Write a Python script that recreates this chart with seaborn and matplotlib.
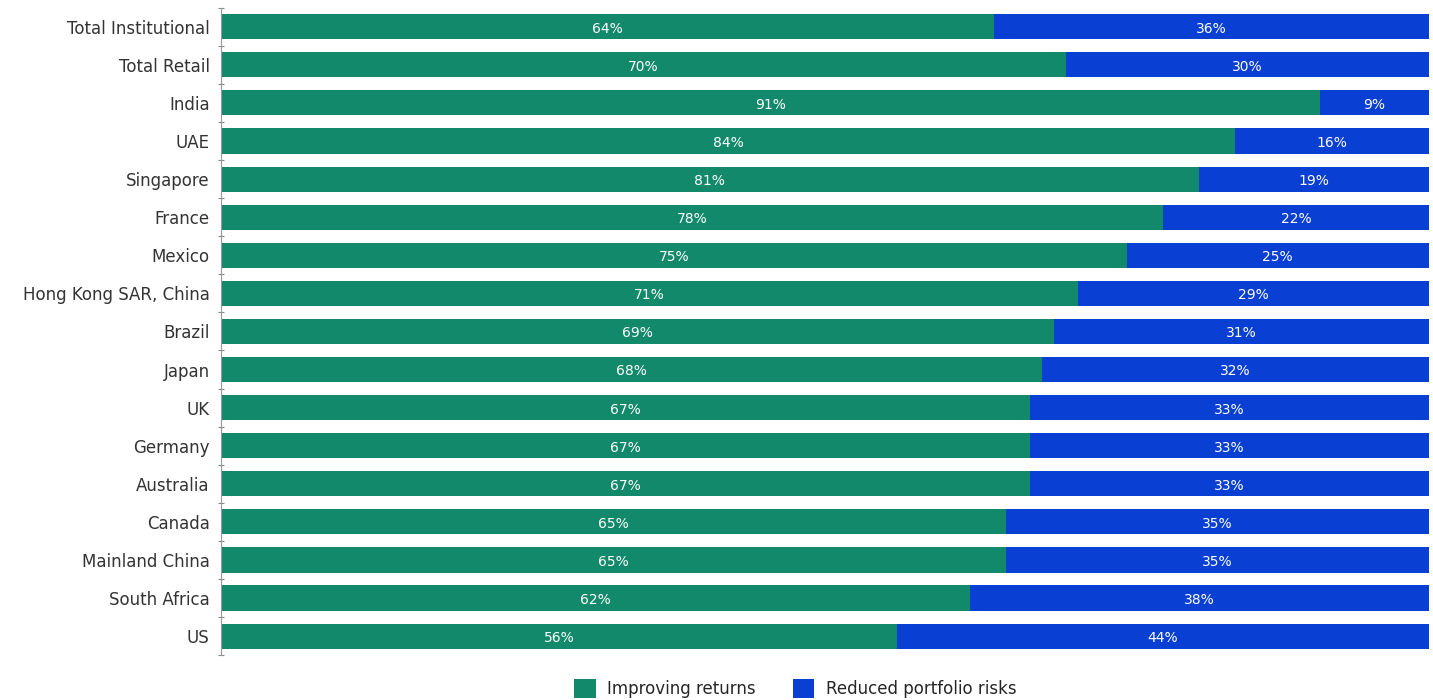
import seaborn as sns
import pandas as pd
import matplotlib.pyplot as plt

# Data
markets = [
  "Total Institutional", "Total Retail", "India", "UAE", "Singapore", "France",
  "Mexico", "Hong Kong SAR, China", "Brazil", "Japan", "UK", "Germany",
  "Australia", "Canada", "Mainland China", "South Africa", "US",
]
improving_returns = [64, 70, 91, 84, 81, 78, 75, 71, 69, 68, 67, 67, 67, 65, 65, 62, 56]
reduced_risks = [36, 30, 9, 16, 19, 22, 25, 29, 31, 32, 33, 33, 33, 35, 35, 38, 44]

green = "#11896a"
blue = "#0a3fd4"

df = pd.DataFrame({
  "market": markets,
  "improving": improving_returns,
  "reduced": reduced_risks,
})
df["total"] = df["improving"] + df["reduced"]

sns.set_style("white")
plt.rcParams["font.family"] = ["DejaVu Sans"]

fig = plt.figure(figsize=(14.33, 7.0), dpi=100)
ax = fig.add_axes([0.154, 0.064, 0.843, 0.925])

sns.barplot(data=df, y="market", x="total", color=blue, orient="h",
            width=0.66, saturation=1, linewidth=0, ax=ax, label="Reduced portfolio risks")
sns.barplot(data=df, y="market", x="improving", color=green, orient="h",
            width=0.66, saturation=1, linewidth=0, ax=ax, label="Improving returns")

for i, row in df.iterrows():
  ax.text(row["improving"] / 2, i + 0.05, f"{row['improving']}%", ha="center", va="center",
          color="white", fontsize=10)
  ax.text(row["improving"] + row["reduced"] / 2, i + 0.05, f"{row['reduced']}%", ha="center",
          va="center", color="white", fontsize=10)

ax.set_xlim(0, 100)
ax.set_ylim(16.5, -0.5)
ax.set_xlabel("")
ax.set_ylabel("")
ax.set_xticks([])
ax.tick_params(axis="y", labelsize=12, colors="#333333", length=0, pad=8)
ax.set_yticks([i + 0.5 for i in range(-1, 17)], minor=True)
ax.tick_params(axis="y", which="minor", left=True, direction="inout", length=5,
               width=0.8, color="#888888")
for s in ["top", "right", "bottom"]:
  ax.spines[s].set_visible(False)
ax.spines["left"].set_color("#999999")
ax.spines["left"].set_linewidth(0.8)

handles, labels = ax.get_legend_handles_labels()
order = [labels.index("Improving returns"), labels.index("Reduced portfolio risks")]
fig.legend([handles[k] for k in order], [labels[k] for k in order],
           loc="center", bbox_to_anchor=(0.555, 0.016), ncol=2, frameon=False,
           fontsize=12, handlelength=1.3, handleheight=1.3, columnspacing=2.2,
           handletextpad=0.7)
if ax.get_legend() is not None:
  ax.get_legend().remove()

fig.savefig("out.png", dpi=100)
